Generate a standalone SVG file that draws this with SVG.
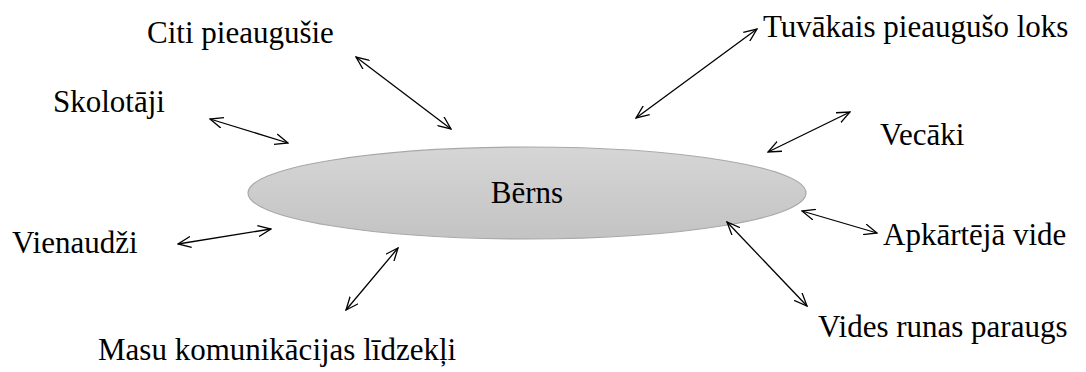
<svg xmlns="http://www.w3.org/2000/svg" width="1086" height="372" viewBox="0 0 1086 372">
<style>
.c{stroke:#000;stroke-width:1.3;fill:none;marker-start:url(#ah);marker-end:url(#ah)}
</style>
<defs>
<linearGradient id="g" x1="0" y1="0" x2="0" y2="1">
<stop offset="0" stop-color="#d6d6d6"/>
<stop offset="1" stop-color="#c3c3c3"/>
</linearGradient>
<marker id="ah" viewBox="0 0 14 12" refX="13" refY="6" markerWidth="14" markerHeight="12" markerUnits="userSpaceOnUse" orient="auto-start-reverse">
<path d="M0,0.5 L13,6 L0,11.5" fill="none" stroke="#000" stroke-width="1.3"/>
</marker>
</defs>
<g font-family="Liberation Serif, Times New Roman, serif" font-size="31" fill="#000">
<g id="child">
<ellipse cx="527" cy="193" rx="279" ry="46" fill="url(#g)" stroke="#a8a8a8" stroke-width="1.2"/>
<text x="527" y="203" text-anchor="middle">Bērns</text>
</g>
<g id="n-citi"><text x="147" y="43">Citi pieaugušie</text></g>
<g id="n-skolotaji"><text x="53" y="112">Skolotāji</text></g>
<g id="n-tuvakais"><text x="763" y="37">Tuvākais pieaugušo loks</text></g>
<g id="n-vecaki"><text x="880" y="145">Vecāki</text></g>
<g id="n-vienaudzi"><text x="12" y="253">Vienaudži</text></g>
<g id="n-apkarteja"><text x="883" y="245">Apkārtējā vide</text></g>
<g id="n-vides"><text x="818" y="337">Vides runas paraugs</text></g>
<g id="n-masu"><text x="98" y="360">Masu komunikācijas līdzekļi</text></g>
</g>
<g id="connectors">
<line class="c" x1="210" y1="119" x2="288" y2="143"/>
<line class="c" x1="356" y1="57" x2="451" y2="129"/>
<line class="c" x1="757" y1="29" x2="636" y2="118"/>
<line class="c" x1="850" y1="112" x2="768" y2="152"/>
<line class="c" x1="802" y1="211" x2="877" y2="233"/>
<line class="c" x1="727" y1="222" x2="807" y2="306"/>
<line class="c" x1="398" y1="248" x2="346" y2="310"/>
<line class="c" x1="178" y1="244" x2="271" y2="229"/>
</g>
</svg>
